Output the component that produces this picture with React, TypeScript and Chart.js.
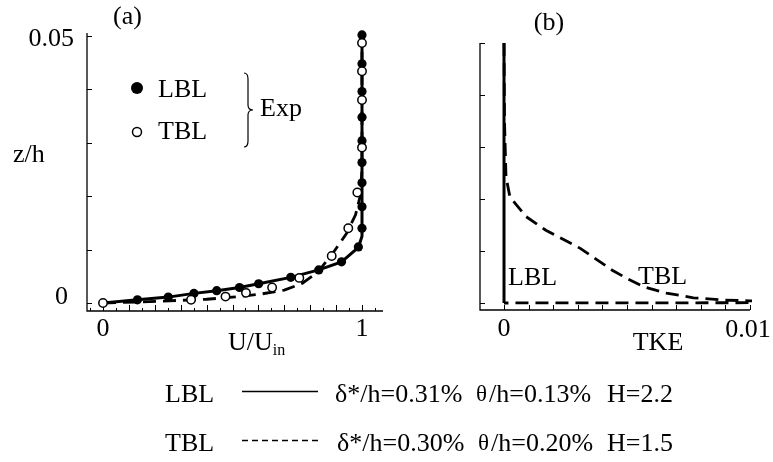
import React, { useEffect, useRef } from "react";
import { Chart, registerables } from "chart.js";
Chart.register(...registerables);

const SERIF = '"Liberation Serif", "Times New Roman", serif';

// ---------- Panel (a): U/U_in vs z/h ----------
const lblExpU = [0.133, 0.252, 0.351, 0.439, 0.527, 0.601, 0.725, 0.833, 0.921, 0.986, 1.0, 1.0, 1.0, 1.0, 1.0, 1.0, 1.0, 1.0, 1.0];
const lblExpZ = [0.0006, 0.0011, 0.0018, 0.0023, 0.0029, 0.0036, 0.0048, 0.0062, 0.0077, 0.0105, 0.014, 0.018, 0.0225, 0.0263, 0.0304, 0.0348, 0.0396, 0.0448, 0.0502];

const tblExpU = [0, 0.34, 0.473, 0.552, 0.653, 0.758, 0.883, 0.947, 0.982, 1.0, 1.0, 1.0, 1.0];
const tblExpZ = [0, 0.0006, 0.0012, 0.0019, 0.0029, 0.0047, 0.0088, 0.014, 0.0207, 0.0291, 0.038, 0.0434, 0.0487];

const lblSimU = [0, 0.133, 0.252, 0.351, 0.439, 0.527, 0.601, 0.725, 0.833, 0.921, 0.986, 1.0, 1.0];
const lblSimZ = [0, 0.0006, 0.0011, 0.0018, 0.0023, 0.0029, 0.0036, 0.0048, 0.0062, 0.0077, 0.0104, 0.0125, 0.0502];

const tblSimU = [0, 0.15, 0.3, 0.4, 0.5, 0.6, 0.7, 0.77, 0.83, 0.89, 0.94, 0.975, 0.993, 1.0, 1.0];
const tblSimZ = [0, 0.0002, 0.0005, 0.0007, 0.0011, 0.0016, 0.0024, 0.0037, 0.0058, 0.0095, 0.013, 0.0165, 0.02, 0.025, 0.0502];

const zTicks = [0, 0.01, 0.02, 0.03, 0.04, 0.05];
const uTickStep = 0.05;
const uTickLabels = ["0", "1"];

// ---------- Panel (b): TKE vs z/h ----------
const lblTke = [0, 0];
const lblTkeZ = [0, 0.05];

const tblTke = [0, 0.00002, 0.00008, 0.00024, 0.0009, 0.0017, 0.0031, 0.0044, 0.005, 0.0057, 0.0066, 0.0077, 0.0088, 0.01, 0.0115, 0.01, 0.005, 0];
const tblTkeZ = [0.05, 0.035, 0.0243, 0.0204, 0.0166, 0.014, 0.0105, 0.0063, 0.0047, 0.0031, 0.0019, 0.001, 0.0006, 0.0004, 0.0002, 0.00005, 0.00002, 0];

const tkeTickStep = 0.001;
const tkeTickLabels = ["0", "0.01"];

// ---------- legend text ----------
const legendRows = [
  { name: "LBL", delta: "δ*/h=0.31%", theta: "/h=0.13%", shape: "H=2.2", dashed: false },
  { name: "TBL", delta: "δ*/h=0.30%", theta: "/h=0.20%", shape: "H=1.5", dashed: true },
];

const pts = (xs: number[], ys: number[]) => xs.map((x, i) => ({ x, y: ys[i] }));

function text(ctx: CanvasRenderingContext2D, s: string, x: number, y: number, size: number, align: CanvasTextAlign = "left") {
  ctx.font = `${size}px ${SERIF}`;
  ctx.textAlign = align;
  ctx.textBaseline = "alphabetic";
  ctx.fillStyle = "#000";
  ctx.fillText(s, x, y);
}

const axesA = {
  id: "axesA",
  beforeDatasetsDraw(chart: any) {
    const { ctx, chartArea, scales } = chart;
    const { left, right, top, bottom } = chartArea;
    const x = scales.x, y = scales.y;
    ctx.save();
    ctx.strokeStyle = "#000";
    ctx.lineWidth = 1.3;
    ctx.beginPath();
    ctx.moveTo(left, top);
    ctx.lineTo(left, bottom);
    ctx.lineTo(right, bottom);
    ctx.stroke();
    ctx.lineWidth = 1;
    ctx.beginPath();
    zTicks.forEach((v) => {
      const py = Math.round(y.getPixelForValue(v)) + 0.5;
      ctx.moveTo(left, py);
      ctx.lineTo(left + 5, py);
    });
    for (let i = -1; i * uTickStep <= x.max; i++) {
      const px = Math.round(x.getPixelForValue(i * uTickStep)) + 0.5;
      const len = i % 2 === 0 ? 6 : 3;
      ctx.moveTo(px, bottom);
      ctx.lineTo(px, bottom - len);
    }
    ctx.stroke();
    ctx.restore();
  },
  afterDraw(chart: any) {
    const { ctx, chartArea, scales } = chart;
    const { left, bottom } = chartArea;
    const x = scales.x, y = scales.y;
    ctx.save();
    // tick labels
    text(ctx, "0.05", left - 13, y.getPixelForValue(0.05) + 10, 26, "right");
    text(ctx, "0", left - 19, y.getPixelForValue(0) + 1, 26, "right");
    text(ctx, uTickLabels[0], x.getPixelForValue(0), bottom + 25, 26, "center");
    text(ctx, uTickLabels[1], x.getPixelForValue(1), bottom + 25, 26, "center");
    // axis titles
    text(ctx, "z/h", 13, 162, 26);
    ctx.font = `26px ${SERIF}`;
    const uw = ctx.measureText("U/U").width;
    text(ctx, "U/U", 228, 350, 26);
    text(ctx, "in", 228 + uw, 355, 16);
    text(ctx, "(a)", 127.5, 24, 26, "center");
    // inner legend
    ctx.fillStyle = "#000";
    ctx.beginPath();
    ctx.arc(137, 88, 6, 0, Math.PI * 2);
    ctx.fill();
    ctx.beginPath();
    ctx.arc(137, 132, 4.5, 0, Math.PI * 2);
    ctx.fillStyle = "#fff";
    ctx.fill();
    ctx.strokeStyle = "#000";
    ctx.lineWidth = 1.5;
    ctx.stroke();
    text(ctx, "LBL", 158, 97, 26);
    text(ctx, "TBL", 158, 139, 26);
    // brace
    const bx = 248, t = 73, m = 110, b = 147;
    ctx.lineWidth = 1.2;
    ctx.beginPath();
    ctx.moveTo(bx - 4, t);
    ctx.quadraticCurveTo(bx, t, bx, t + 6);
    ctx.lineTo(bx, m - 5);
    ctx.quadraticCurveTo(bx, m, bx + 5, m);
    ctx.quadraticCurveTo(bx, m, bx, m + 5);
    ctx.lineTo(bx, b - 6);
    ctx.quadraticCurveTo(bx, b, bx - 4, b);
    ctx.stroke();
    text(ctx, "Exp", 260, 116, 26);
    // bottom legend
    legendRows.forEach((r, i) => {
      const base = 402 + i * 49;
      text(ctx, r.name, 165, base, 26);
      ctx.save();
      ctx.strokeStyle = "#000";
      ctx.lineWidth = 1.3;
      if (r.dashed) ctx.setLineDash([6, 4]);
      ctx.beginPath();
      ctx.moveTo(242, base - 10.5);
      ctx.lineTo(318, base - 10.5);
      ctx.stroke();
      ctx.restore();
      text(ctx, r.delta, 335 + i * 2, base, 26);
      text(ctx, "θ", 476 + i * 2, base - 1, 23);
      text(ctx, r.theta, 489 + i * 2, base, 26);
      text(ctx, r.shape, 607, base, 26);
    });
    ctx.restore();
  },
};

const axesB = {
  id: "axesB",
  beforeDatasetsDraw(chart: any) {
    const { ctx, chartArea, scales } = chart;
    const { left, right, top, bottom } = chartArea;
    const x = scales.x, y = scales.y;
    ctx.save();
    ctx.strokeStyle = "#000";
    ctx.lineWidth = 1.3;
    ctx.beginPath();
    ctx.moveTo(left, top);
    ctx.lineTo(left, bottom);
    ctx.lineTo(right, bottom);
    ctx.stroke();
    ctx.lineWidth = 1;
    ctx.beginPath();
    zTicks.forEach((v) => {
      const py = Math.round(y.getPixelForValue(v)) + 0.5;
      ctx.moveTo(left, py);
      ctx.lineTo(left + 5, py);
    });
    for (let i = 0; i * tkeTickStep <= x.max + 1e-9; i++) {
      const px = Math.round(x.getPixelForValue(i * tkeTickStep)) + 0.5;
      ctx.moveTo(px, bottom);
      ctx.lineTo(px, bottom - 5);
    }
    ctx.stroke();
    ctx.restore();
  },
  afterDraw(chart: any) {
    const { ctx, chartArea, scales } = chart;
    const { bottom } = chartArea;
    const x = scales.x;
    ctx.save();
    text(ctx, tkeTickLabels[0], x.getPixelForValue(0), bottom + 26, 26, "center");
    text(ctx, tkeTickLabels[1], x.getPixelForValue(0.01) - 2, bottom + 27, 26, "center");
    text(ctx, "TKE", 658, 350, 26, "center");
    text(ctx, "(b)", 549, 30, 26, "center");
    text(ctx, "LBL", 508, 285, 26);
    text(ctx, "TBL", 638, 284, 26);
    ctx.restore();
  },
};

const common = {
  responsive: false,
  animation: false as const,
  events: [] as any[],
  plugins: { legend: { display: false }, tooltip: { enabled: false }, title: { display: false } },
};

export default function App() {
  const refA = useRef<HTMLCanvasElement>(null);
  const refB = useRef<HTMLCanvasElement>(null);

  useEffect(() => {
    const lineDs = (data: any[], dashed: boolean, order: number) => ({
      data,
      showLine: true,
      borderColor: "#000",
      borderWidth: dashed ? 2.8 : 3,
      borderDash: dashed ? [13, 7] : [],
      pointRadius: 0,
      fill: false,
      tension: 0,
      order,
      clip: 2,
    });
    const chartA = new Chart(refA.current!, {
      type: "scatter",
      data: {
        datasets: [
          lineDs(pts(lblSimU, lblSimZ), false, 4),
          lineDs(pts(tblSimU, tblSimZ), true, 3),
          {
            data: pts(lblExpU, lblExpZ),
            showLine: false,
            pointRadius: 4.6,
            pointBackgroundColor: "#000",
            pointBorderColor: "#000",
            pointBorderWidth: 0,
            order: 2,
            clip: false,
          },
          {
            data: pts(tblExpU, tblExpZ),
            showLine: false,
            pointRadius: 4.2,
            pointBackgroundColor: "#fff",
            pointBorderColor: "#000",
            pointBorderWidth: 1.5,
            order: 1,
            clip: false,
          },
        ] as any,
      },
      options: {
        ...common,
        layout: { padding: { left: 87, right: 390, top: 33, bottom: 151 } },
        scales: {
          x: { type: "linear", min: -0.0618, max: 1.0811, display: false },
          y: { type: "linear", min: -0.0015, max: 0.05056, display: false },
        },
      } as any,
      plugins: [axesA],
    });

    const chartB = new Chart(refB.current!, {
      type: "scatter",
      data: {
        datasets: [
          lineDs(pts(lblTke, lblTkeZ), false, 2),
          lineDs(pts(tblTke, tblTkeZ), true, 1),
        ] as any,
      },
      options: {
        ...common,
        layout: { padding: { left: 480, right: 23, top: 43, bottom: 152 } },
        scales: {
          x: { type: "linear", min: -0.000976, max: 0.01, display: false },
          y: { type: "linear", min: -0.00135, max: 0.05, display: false },
        },
      } as any,
      plugins: [axesB],
    });

    return () => {
      chartA.destroy();
      chartB.destroy();
    };
  }, []);

  return (
    <div style={{ position: "absolute", left: 0, top: 0, width: 773, height: 462, background: "#fff" }}>
      <canvas ref={refA} width={773} height={462} style={{ position: "absolute", left: 0, top: 0 }} />
      <canvas ref={refB} width={773} height={462} style={{ position: "absolute", left: 0, top: 0 }} />
    </div>
  );
}
